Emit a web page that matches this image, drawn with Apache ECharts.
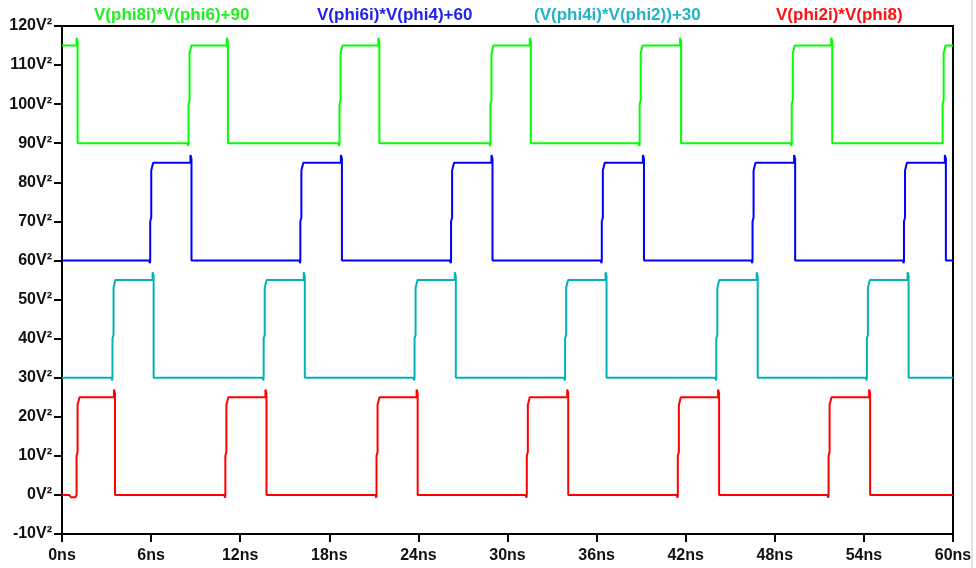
<!DOCTYPE html>
<html><head><meta charset="utf-8">
<script src="https://cdn.jsdelivr.net/npm/echarts@6/dist/echarts.min.js"></script>
<style>html,body{margin:0;padding:0;background:#fff}#c{width:976px;height:568px}</style>
</head><body><div id="c"></div>
<script>
// Series names (legend texts)
const seriesNames = ['V(phi8i)*V(phi6)+90', 'V(phi6i)*V(phi4)+60', '(V(phi4i)*V(phi2))+30', 'V(phi2i)*V(phi8)'];
// Axis ticks
const xTicks = [0, 6, 12, 18, 24, 30, 36, 42, 48, 54, 60];
const yTicks = [-10, 0, 10, 20, 30, 40, 50, 60, 70, 80, 90, 100, 110, 120];

// Waveform points [time ns, value V²]
const green = [
 [0,115],[0.98,115],[0.98,117],[1.05,116],[1.05,90],
 [8.45,90],[8.5,89.3],[8.52,90],[8.52,100],[8.59,101],[8.59,113],[8.72,115],[11.1,115],[11.1,117],[11.17,116],[11.17,90],
 [18.62,90],[18.67,89.3],[18.69,90],[18.69,100],[18.76,101],[18.76,113],[18.89,115],[21.3,115],[21.3,117],[21.37,116],[21.37,90],
 [28.78,90],[28.83,89.3],[28.85,90],[28.85,100],[28.92,101],[28.92,113],[29.05,115],[31.5,115],[31.5,117],[31.57,116],[31.57,90],
 [38.83,90],[38.88,89.3],[38.9,90],[38.9,100],[38.97,101],[38.97,113],[39.1,115],[41.62,115],[41.62,117],[41.69,116],[41.69,90],
 [49.07,90],[49.12,89.3],[49.14,90],[49.14,100],[49.21,101],[49.21,113],[49.34,115],[51.8,115],[51.8,117],[51.87,116],[51.87,90],
 [59.3,90],[59.3,100],[59.37,101],[59.37,113],[59.5,115],[60,115]
];
const blue = [
 [0,60],
 [5.87,60],[5.92,59.3],[5.94,60],[5.94,70],[6.01,71],[6.01,83],[6.14,85],[8.65,85],[8.65,87],[8.72,86],[8.72,60],
 [15.98,60],[16.03,59.3],[16.05,60],[16.05,70],[16.12,71],[16.12,83],[16.25,85],[18.78,85],[18.78,87],[18.85,86],[18.85,60],
 [26.13,60],[26.18,59.3],[26.2,60],[26.2,70],[26.27,71],[26.27,83],[26.4,85],[28.92,85],[28.92,87],[28.99,86],[28.99,60],
 [36.28,60],[36.33,59.3],[36.35,60],[36.35,70],[36.42,71],[36.42,83],[36.55,85],[39.12,85],[39.12,87],[39.19,86],[39.19,60],
 [46.43,60],[46.48,59.3],[46.5,60],[46.5,70],[46.57,71],[46.57,83],[46.7,85],[49.3,85],[49.3,87],[49.37,86],[49.37,60],
 [56.63,60],[56.68,59.3],[56.7,60],[56.7,70],[56.77,71],[56.77,83],[56.9,85],[59.45,85],[59.45,87],[59.52,86],[59.52,60],
 [60,60]
];
const cyan = [
 [0,30],
 [3.33,30],[3.38,29.3],[3.4,30],[3.4,40],[3.47,41],[3.47,53],[3.6,55],[6.1,55],[6.1,57],[6.17,56],[6.17,30],
 [13.51,30],[13.56,29.3],[13.58,30],[13.58,40],[13.65,41],[13.65,53],[13.78,55],[16.28,55],[16.28,57],[16.35,56],[16.35,30],
 [23.67,30],[23.72,29.3],[23.74,30],[23.74,40],[23.81,41],[23.81,53],[23.94,55],[26.45,55],[26.45,57],[26.52,56],[26.52,30],
 [33.81,30],[33.86,29.3],[33.88,30],[33.88,40],[33.95,41],[33.95,53],[34.08,55],[36.6,55],[36.6,57],[36.67,56],[36.67,30],
 [43.99,30],[44.04,29.3],[44.06,30],[44.06,40],[44.13,41],[44.13,53],[44.26,55],[46.78,55],[46.78,57],[46.85,56],[46.85,30],
 [54.13,30],[54.18,29.3],[54.2,30],[54.2,40],[54.27,41],[54.27,53],[54.4,55],[56.94,55],[56.94,57],[57.01,56],[57.01,30],
 [60,30]
];
const red = [
 [0,0],
 [0.5,0],[0.6,-0.6],[0.9,-0.6],[0.98,0],[0.98,10],[1.05,11],[1.05,23],[1.18,25],[3.5,25],[3.5,27],[3.57,26],[3.57,0],
 [10.93,0],[10.98,-0.7],[11.0,0],[11.0,10],[11.07,11],[11.07,23],[11.2,25],[13.7,25],[13.7,27],[13.77,26],[13.77,0],
 [21.11,0],[21.16,-0.7],[21.18,0],[21.18,10],[21.25,11],[21.25,23],[21.38,25],[23.88,25],[23.88,27],[23.95,26],[23.95,0],
 [31.23,0],[31.28,-0.7],[31.3,0],[31.3,10],[31.37,11],[31.37,23],[31.5,25],[34.02,25],[34.02,27],[34.09,26],[34.09,0],
 [41.4,0],[41.45,-0.7],[41.47,0],[41.47,10],[41.54,11],[41.54,23],[41.67,25],[44.18,25],[44.18,27],[44.25,26],[44.25,0],
 [51.55,0],[51.6,-0.7],[51.62,0],[51.62,10],[51.69,11],[51.69,23],[51.82,25],[54.35,25],[54.35,27],[54.42,26],[54.42,0],
 [60,0]
];

const colors = ['#00ff00', '#0000ff', '#00b4b4', '#ff0000'];
const textColors = ['#22ee22', '#2222ee', '#22b4c4', '#ff1111'];
const legendLeft = [94, 317, 534, 776];

const chart = echarts.init(document.getElementById('c'), null, {renderer: 'canvas'});
const dataSets = [green, blue, cyan, red];
chart.setOption({
  animation: false,
  backgroundColor: '#fff',
  grid: {left: 62, right: 23, top: 26, bottom: 34, show: true, borderColor: '#000', borderWidth: 2, backgroundColor: 'transparent'},
  xAxis: {
    type: 'value', min: xTicks[0], max: xTicks[xTicks.length - 1], interval: 6,
    axisLine: {show: true, onZero: false, lineStyle: {color: '#000', width: 2}},
    axisTick: {show: true, length: 8, lineStyle: {color: '#000', width: 2}},
    splitLine: {show: false},
    axisLabel: {margin: 14, color: '#111', fontSize: 16, fontWeight: 'bold', fontFamily: 'Liberation Sans, Arial, sans-serif', formatter: v => v + 'ns'}
  },
  yAxis: {
    type: 'value', min: yTicks[0], max: yTicks[yTicks.length - 1], interval: 10,
    axisLine: {show: true, onZero: false, lineStyle: {color: '#000', width: 2}},
    axisTick: {show: true, length: 8, lineStyle: {color: '#000', width: 2}},
    splitLine: {show: false},
    axisLabel: {margin: 10, color: '#111', fontSize: 16, fontWeight: 'bold', fontFamily: 'Liberation Sans, Arial, sans-serif', formatter: v => v + 'V²'}
  },
  series: dataSets.map((d, i) => ({
    name: seriesNames[i], type: 'line', data: d, showSymbol: false, symbol: 'none',
    lineStyle: {color: colors[i], width: 2}, itemStyle: {color: colors[i]}, clip: true
  })),
  graphic: seriesNames.map((n, i) => ({
    type: 'text', left: legendLeft[i], top: 7,
    style: {text: n, fill: textColors[i], font: 'bold 17px "Liberation Sans", Arial, sans-serif'}
  })).concat([{type: 'rect', shape: {x: 971, y: 0, width: 2, height: 568}, style: {fill: '#e4e4e4'}}])
});
</script></body></html>
